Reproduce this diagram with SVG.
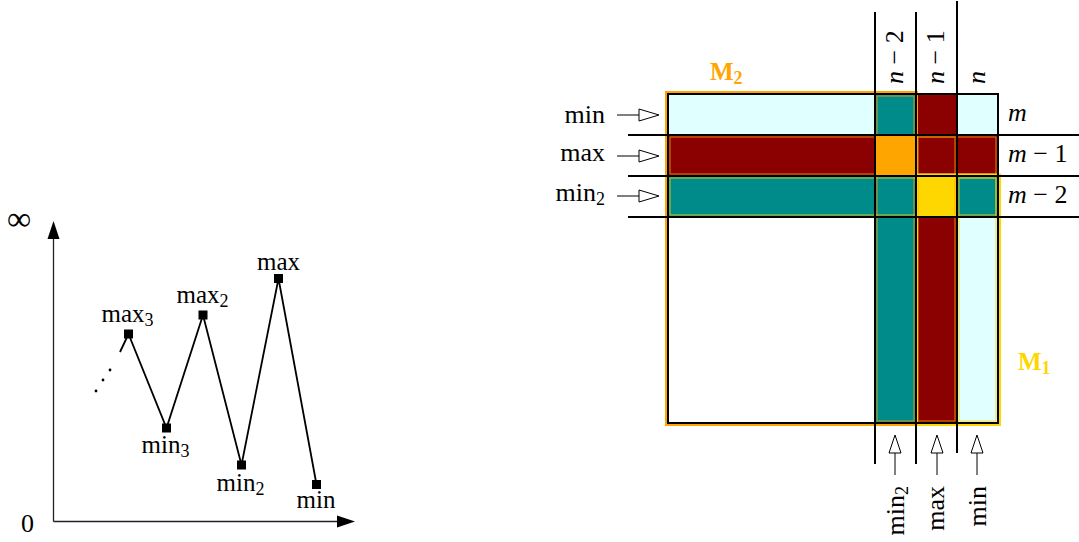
<svg xmlns="http://www.w3.org/2000/svg" width="1079" height="542" viewBox="0 0 1079 542">
<style>
text{font-family:"Liberation Serif","DejaVu Serif",serif;fill:#000}
.lbl{font-size:26px}
.sm{font-size:25px}
.it{font-style:italic}
.sub{font-size:18px}
.bl{stroke:#000;stroke-width:2;fill:none}
.ax{stroke:#222;stroke-width:1.3;fill:none}
.cur{stroke:#000;stroke-width:1.8;fill:none;stroke-linejoin:miter}
.arr{stroke:#000;stroke-width:1;fill:none}
.head{fill:#fff;stroke:#000;stroke-width:1}
.pt{fill:#000}
</style>
<rect width="1079" height="542" fill="#fff"/>

<g id="chart">
  <g id="axes">
    <line class="ax" x1="53.5" y1="521.5" x2="53.5" y2="236"/>
    <polygon points="53.5,221 47.5,239 59.5,239" fill="#000"/>
    <line class="ax" x1="53.5" y1="521.5" x2="338" y2="521.5"/>
    <polygon points="355,521.5 337,515.5 337,527.5" fill="#000"/>
    <text x="7" y="230" style="font-size:34px">∞</text>
    <text x="21" y="532" class="lbl">0</text>
  </g>
  <g id="curve">
    <polyline class="cur" points="120,352 128.5,334 166.5,428 203,315 241.5,465 278.5,278.5 316.5,484.5"/>
    <circle cx="96" cy="391" r="1.4" class="pt"/>
    <circle cx="103" cy="380" r="1.4" class="pt"/>
    <circle cx="110" cy="370" r="1.4" class="pt"/>
  </g>
  <g id="p-max3"><rect x="124" y="329.5" width="9" height="9" class="pt"/><text x="127.5" y="322" class="sm" text-anchor="middle">max<tspan class="sub" dy="4">3</tspan></text></g>
  <g id="p-min3"><rect x="162" y="423.5" width="9" height="9" class="pt"/><text x="165.5" y="453" class="sm" text-anchor="middle">min<tspan class="sub" dy="4">3</tspan></text></g>
  <g id="p-max2"><rect x="198.5" y="310.5" width="9" height="9" class="pt"/><text x="202.5" y="303" class="sm" text-anchor="middle">max<tspan class="sub" dy="4">2</tspan></text></g>
  <g id="p-min2"><rect x="237" y="460.5" width="9" height="9" class="pt"/><text x="240.5" y="491" class="sm" text-anchor="middle">min<tspan class="sub" dy="4">2</tspan></text></g>
  <g id="p-max"><rect x="274" y="274" width="9" height="9" class="pt"/><text x="278.5" y="270" class="sm" text-anchor="middle">max</text></g>
  <g id="p-min"><rect x="312" y="480" width="9" height="9" class="pt"/><text x="316" y="508" class="sm" text-anchor="middle">min</text></g>
</g>

<g id="matrix">
  <g id="fills">
    <rect x="668" y="94" width="207" height="41" fill="#E0FFFF"/>
    <rect x="875" y="94" width="41" height="329" fill="#008B8B"/>
    <rect x="916" y="94" width="41" height="329" fill="#8B0000"/>
    <rect x="957" y="94" width="41" height="329" fill="#E0FFFF"/>
    <rect x="668" y="135" width="330" height="41" fill="#8B0000"/>
    <rect x="668" y="176" width="330" height="41" fill="#008B8B"/>
    <rect x="875" y="135" width="41" height="41" fill="#FFA500"/>
    <rect x="916" y="176" width="41" height="41" fill="#FFD700"/>
  </g>
  <g id="thin-borders" fill="none" stroke-width="1" opacity="0.8">
    <rect x="877" y="96" width="37" height="325" stroke="#FFA500"/>
    <rect x="918" y="137" width="37" height="284" stroke="#FFA500"/>
    <rect x="670" y="137" width="326" height="37" stroke="#FFA500"/>
    <rect x="670" y="178" width="326" height="37" stroke="#FFD700"/>
    <rect x="959" y="178" width="37" height="243" stroke="#FFD700"/>
  </g>
  <g id="M2">
    <rect x="666.5" y="92.5" width="250" height="332" fill="none" stroke="#FFA500" stroke-width="3"/>
    <text x="710" y="80" style="fill:#FFA500;font-weight:bold;font-size:25px">M<tspan dy="4" style="font-size:18px">2</tspan></text>
  </g>
  <g id="M1">
    <rect x="916.5" y="175" width="83" height="249.5" fill="none" stroke="#FFD700" stroke-width="3"/>
    <text x="1018" y="370" style="fill:#FFD700;font-weight:bold;font-size:25px">M<tspan dy="4" style="font-size:18px">1</tspan></text>
  </g>
  <g id="grid">
    <rect x="668" y="94" width="330" height="329" class="bl"/>
    <line class="bl" x1="628" y1="135" x2="1079" y2="135"/>
    <line class="bl" x1="628" y1="176" x2="1079" y2="176"/>
    <line class="bl" x1="628" y1="217" x2="1079" y2="217"/>
    <line class="bl" x1="875" y1="12" x2="875" y2="464"/>
    <line class="bl" x1="916" y1="12" x2="916" y2="464"/>
    <line class="bl" x1="957" y1="1" x2="957" y2="453"/>
  </g>
  <g id="row-labels">
    <text x="605" y="123" class="lbl" text-anchor="end">min</text>
    <text x="605" y="161" class="lbl" text-anchor="end">max</text>
    <text x="605" y="201" class="lbl" text-anchor="end">min<tspan class="sub" dy="4">2</tspan></text>
    <text x="1008" y="121" class="lbl it">m</text>
    <text x="1008" y="162" class="lbl"><tspan class="it">m</tspan> − 1</text>
    <text x="1008" y="203" class="lbl"><tspan class="it">m</tspan> − 2</text>
  </g>
  <g id="col-labels">
    <text transform="translate(903,84) rotate(-90)" class="lbl"><tspan class="it">n</tspan> − 2</text>
    <text transform="translate(944,84) rotate(-90)" class="lbl"><tspan class="it">n</tspan> − 1</text>
    <text transform="translate(985,84) rotate(-90)" class="lbl it">n</text>
    <text transform="translate(904,486) rotate(-90)" class="lbl" text-anchor="end">min<tspan class="sub" dy="4">2</tspan></text>
    <text transform="translate(944,486) rotate(-90)" class="lbl" text-anchor="end">max</text>
    <text transform="translate(986,486) rotate(-90)" class="lbl" text-anchor="end">min</text>
  </g>
</g>

<g id="connectors">
  <line class="arr" x1="617" y1="115" x2="640" y2="115"/><polygon class="head" points="659,115 639,109 639,121"/>
  <line class="arr" x1="617" y1="156" x2="640" y2="156"/><polygon class="head" points="659,156 639,150 639,162"/>
  <line class="arr" x1="617" y1="196" x2="640" y2="196"/><polygon class="head" points="659,196 639,190 639,202"/>
  <line class="arr" x1="895" y1="475" x2="895" y2="452"/><polygon class="head" points="895,435 889,453 901,453"/>
  <line class="arr" x1="937" y1="475" x2="937" y2="452"/><polygon class="head" points="937,435 931,453 943,453"/>
  <line class="arr" x1="977" y1="475" x2="977" y2="452"/><polygon class="head" points="977,435 971,453 983,453"/>
</g>
</svg>
